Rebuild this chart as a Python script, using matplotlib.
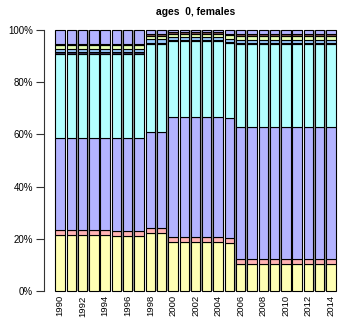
import numpy as np
import matplotlib
matplotlib.use("Agg")
from matplotlib import pyplot as plt

plt.rcParams['font.family'] = ['Liberation Sans', 'DejaVu Sans']

years = list(range(1990, 2015))

# layer heights in percent, bottom to top
yellow = [21.5] * 5 + [21.0] * 3 + [22.1] * 2 + [18.8] * 5 + [18.5] + [10.2] * 9
pink = [1.9] * 8 + [1.9] * 2 + [1.8] * 5 + [1.7] + [1.9] * 9
blue = [35.2] * 5 + [35.7] * 3 + [36.9] * 2 + [46.1] * 5 + [46.1] + [50.7] * 9
cyan = [32.2] * 8 + [33.7] * 2 + [29.0] * 5 + [28.7] + [31.7] * 9
navy = [0.8] * 8 + [0.6] * 2 + [0.3] * 5 + [0.4] + [0.6] * 9
lightblue = [1.3] * 8 + [1.4] * 2 + [1.2] * 5 + [1.3] + [1.0] * 9
greenyellow = [1.3] * 8 + [1.0] * 2 + [1.4] * 5 + [1.3] + [1.5] * 9
brown = [0.4] * 8 + [1.0] * 2 + [0.5] * 5 + [0.5] + [0.8] * 9
lavender = [5.4] * 8 + [1.4] * 2 + [0.9] * 5 + [1.5] + [1.6] * 9

layers = [yellow, pink, blue, cyan, navy, lightblue, greenyellow, brown, lavender]
colors = ['#FFFFB3', '#FFB3B3', '#B3B3FF', '#B3FFFF', '#33335A',
          '#99CCFF', '#E6FFB3', '#804D4D', '#B3B3FF']

W, H = 353, 324
fig = plt.figure(figsize=(W / 100, H / 100), dpi=100)
ax = fig.add_axes([44 / W, (H - 291) / H, 303 / W, 261 / H])

n = len(years)
x = np.arange(n) * 1.2 + 0.7
data = np.array(layers)
# normalise to 100 %
data = data / data.sum(axis=0) * 100

# shadow bars
ax.bar(x + 0.17, 100, width=1.0, color='#999999', linewidth=0, zorder=1, clip_on=False)

bottom = np.zeros(n)
for vals, col in zip(data, colors):
    ax.bar(x, vals, width=1.0, bottom=bottom, color=col, edgecolor='black',
           linewidth=0.8, zorder=2, clip_on=False)
    bottom += vals

ax.set_xlim(-1.0, 31.2)
ax.set_ylim(0, 100)

for s in ['top', 'right', 'bottom']:
    ax.spines[s].set_visible(False)
ax.spines['left'].set_bounds(0, 100)
ax.spines['left'].set_color('#333333')
ax.spines['left'].set_linewidth(0.8)

ax.set_yticks([0, 20, 40, 60, 80, 100])
ax.set_yticklabels(['0%', '20%', '40%', '60%', '80%', '100%'], fontsize=7)
ax.tick_params(axis='y', length=6, width=0.8, color='#333333', pad=2)

ax.set_xticks(x[::2])
ax.set_xticklabels([str(y) for y in years[::2]], rotation=90, fontsize=6.8)
ax.tick_params(axis='x', length=0, pad=3)

fig.text(0.5 * (55 + 337) / W, 1 - 12 / H, 'ages  0, females', ha='center', va='center',
         fontsize=7.4, fontweight='bold')

fig.savefig('out.png', dpi=100)
